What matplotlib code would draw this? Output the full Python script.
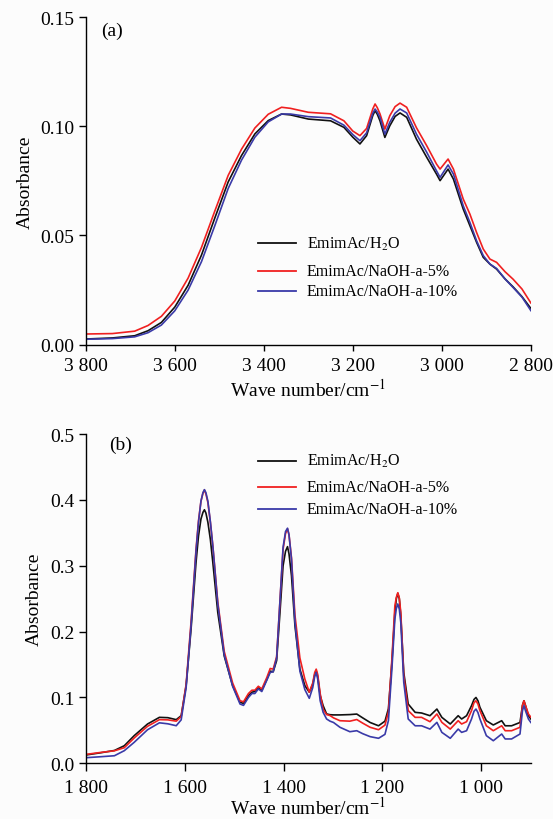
import matplotlib
matplotlib.use("Agg")
import matplotlib.pyplot as plt

plt.rcParams["font.family"] = ["Liberation Serif", "DejaVu Serif"]
plt.rcParams["mathtext.fontset"] = "stix"

LABELS = ["EmimAc/H$_2$O", "EmimAc/NaOH-a-5%", "EmimAc/NaOH-a-10%"]
COLORS = ["#111111", "#f02020", "#3a3aa8"]

# panel (a): 3800-2800 cm-1
wn_a = [3800, 3740, 3690, 3660, 3630, 3600, 3570, 3540, 3510, 3480,
        3450, 3420, 3390, 3360, 3340, 3300, 3250, 3220, 3200, 3184,
        3169, 3155, 3150, 3145, 3139, 3128, 3117, 3105, 3094, 3079,
        3057, 3034, 3012, 3004, 2986, 2974, 2952, 2937, 2922, 2907,
        2892, 2877, 2858, 2840, 2820, 2800]
h2o_a = [0.0026, 0.0031, 0.0041, 0.0064, 0.0102, 0.0172, 0.0272, 0.0410, 0.0580, 0.0745,
         0.0866, 0.0965, 0.1026, 0.1056, 0.1052, 0.1033, 0.1025, 0.0995, 0.0950, 0.0919,
         0.0957, 0.1050, 0.1071, 0.1055, 0.1025, 0.0949, 0.1002, 0.1045, 0.1061, 0.1041,
         0.0941, 0.0858, 0.0781, 0.0751, 0.0804, 0.0758, 0.0621, 0.0545, 0.0469, 0.0400,
         0.0369, 0.0346, 0.0301, 0.0265, 0.0220, 0.0166]
naoh5_a = [0.0049, 0.0051, 0.0062, 0.0088, 0.0130, 0.0200, 0.0305, 0.0445, 0.0612, 0.0775,
           0.0895, 0.0992, 0.1055, 0.1087, 0.1082, 0.1064, 0.1057, 0.1025, 0.0978, 0.0957,
           0.0990, 0.1080, 0.1102, 0.1085, 0.1057, 0.0987, 0.1048, 0.1090, 0.1106, 0.1087,
           0.0993, 0.0911, 0.0827, 0.0804, 0.0850, 0.0804, 0.0667, 0.0598, 0.0514, 0.0438,
           0.0392, 0.0377, 0.0334, 0.0300, 0.0255, 0.0191]
naoh10_a = [0.0025, 0.0028, 0.0036, 0.0055, 0.0090, 0.0155, 0.0250, 0.0380, 0.0545, 0.0715,
            0.0845, 0.0950, 0.1020, 0.1056, 0.1056, 0.1044, 0.1038, 0.1005, 0.0962, 0.0934,
            0.0970, 0.1060, 0.1079, 0.1065, 0.1041, 0.0964, 0.1018, 0.1060, 0.1079, 0.1061,
            0.0964, 0.0881, 0.0796, 0.0766, 0.0823, 0.0781, 0.0636, 0.0560, 0.0476, 0.0408,
            0.0369, 0.0349, 0.0301, 0.0262, 0.0218, 0.0156]

# panel (b): 1800-900 cm-1
wn_b = [1800, 1770, 1742, 1722, 1702, 1675, 1651, 1634, 1617, 1607,
        1597, 1587, 1577, 1572, 1567, 1563, 1560, 1557, 1553, 1548,
        1543, 1533, 1520, 1503, 1488, 1481, 1471, 1464, 1458, 1451,
        1444, 1434, 1427, 1421, 1414, 1407, 1401, 1396, 1392, 1389,
        1384, 1377, 1367, 1357, 1348, 1341, 1337, 1334, 1331, 1326,
        1320, 1313, 1306, 1299, 1286, 1266, 1252, 1240, 1225, 1208,
        1195, 1188, 1181, 1175, 1172, 1169, 1166, 1163, 1157, 1148,
        1134, 1121, 1104, 1090, 1080, 1063, 1047, 1040, 1030, 1020,
        1015, 1011, 1007, 1003, 990, 976, 959, 952, 939, 922,
        917, 914, 911, 905, 900]
h2o_b = [0.0126, 0.0160, 0.0195, 0.0267, 0.0420, 0.0597, 0.0698, 0.0693, 0.0663, 0.0723,
         0.118, 0.204, 0.305, 0.345, 0.371, 0.381, 0.385, 0.380, 0.366, 0.340,
         0.305, 0.229, 0.163, 0.118, 0.0926, 0.0910, 0.103, 0.108, 0.109, 0.1145,
         0.111, 0.127, 0.140, 0.139, 0.156, 0.232, 0.300, 0.322, 0.329, 0.318,
         0.285, 0.209, 0.143, 0.118, 0.108, 0.120, 0.135, 0.140, 0.132, 0.103,
         0.0875, 0.0750, 0.0738, 0.0735, 0.0735, 0.0740, 0.0748, 0.0690, 0.0620, 0.0570,
         0.0640, 0.0830, 0.153, 0.229, 0.250, 0.258, 0.250, 0.224, 0.138, 0.0900,
         0.0774, 0.0764, 0.0723, 0.0824, 0.0698, 0.0597, 0.0723, 0.0673, 0.0723, 0.0875,
         0.0970, 0.1000, 0.0950, 0.0850, 0.0647, 0.0582, 0.0647, 0.0570, 0.0570, 0.0620,
         0.0880, 0.0950, 0.0880, 0.0723, 0.0673]
naoh5_b = [0.0135, 0.0165, 0.0190, 0.0237, 0.0384, 0.0562, 0.0663, 0.0660, 0.0640, 0.0710,
           0.120, 0.215, 0.325, 0.368, 0.398, 0.410, 0.415, 0.409, 0.396, 0.366,
           0.330, 0.245, 0.170, 0.122, 0.0950, 0.0935, 0.106, 0.111, 0.111, 0.117,
           0.113, 0.130, 0.144, 0.143, 0.162, 0.250, 0.325, 0.349, 0.356, 0.347,
           0.312, 0.225, 0.160, 0.128, 0.108, 0.122, 0.138, 0.143, 0.135, 0.106,
           0.0820, 0.0740, 0.0725, 0.0690, 0.0647, 0.0640, 0.0665, 0.0610, 0.0547, 0.0510,
           0.0580, 0.0780, 0.158, 0.239, 0.252, 0.259, 0.251, 0.229, 0.133, 0.0800,
           0.0698, 0.0698, 0.0632, 0.0749, 0.0622, 0.0520, 0.0647, 0.0597, 0.0632, 0.0800,
           0.0920, 0.0950, 0.0900, 0.0800, 0.0570, 0.0495, 0.0570, 0.0495, 0.0495, 0.0547,
           0.0880, 0.0950, 0.0880, 0.0750, 0.0700]
naoh10_b = [0.0085, 0.0100, 0.0115, 0.0192, 0.0319, 0.0510, 0.0615, 0.0600, 0.0571, 0.0660,
            0.115, 0.210, 0.322, 0.366, 0.398, 0.411, 0.4155, 0.411, 0.398, 0.367,
            0.330, 0.242, 0.165, 0.117, 0.0900, 0.0880, 0.100, 0.106, 0.106, 0.113,
            0.109, 0.126, 0.138, 0.139, 0.160, 0.250, 0.328, 0.352, 0.357, 0.347,
            0.310, 0.215, 0.140, 0.112, 0.0987, 0.115, 0.132, 0.138, 0.128, 0.0950,
            0.0774, 0.0673, 0.0640, 0.0620, 0.0547, 0.0480, 0.0495, 0.0450, 0.0405, 0.0380,
            0.0440, 0.0650, 0.143, 0.219, 0.235, 0.242, 0.234, 0.214, 0.123, 0.0673,
            0.0570, 0.0570, 0.0520, 0.0622, 0.0470, 0.0380, 0.0520, 0.0470, 0.0495, 0.0673,
            0.0790, 0.0824, 0.0770, 0.0673, 0.0420, 0.0343, 0.0445, 0.0370, 0.0370, 0.0445,
            0.0800, 0.0875, 0.0800, 0.0673, 0.0620]

xticks_a = [3800, 3600, 3400, 3200, 3000, 2800]
yticks_a = [0.00, 0.05, 0.10, 0.15]
xticks_b = [1800, 1600, 1400, 1200, 1000]
yticks_b = [0.0, 0.1, 0.2, 0.3, 0.4, 0.5]

# legend rows (axes fraction), panel a / panel b
legend_rows_a = [0.310, 0.225, 0.164]
legend_rows_b = [0.919, 0.838, 0.772]


def style_axis(ax, xticks, yticks, yfmt, xlen, xpad, xlabelpad):
    ax.spines["top"].set_visible(False)
    ax.spines["right"].set_visible(False)
    for s in ("left", "bottom"):
        ax.spines[s].set_linewidth(1.0)
    ax.set_xticks(xticks)
    ax.set_xticklabels([f"{t:,}".replace(",", " ") for t in xticks])
    ax.set_yticks(yticks)
    ax.set_yticklabels([yfmt.format(t) for t in yticks])
    ax.tick_params(axis="y", direction="out", length=5, width=1.0, labelsize=14, pad=3)
    ax.tick_params(axis="x", direction="out", length=xlen, width=1.0, labelsize=14, pad=xpad)
    ax.set_xlabel("Wave number/cm$^{-1}$", fontsize=14, labelpad=xlabelpad)
    ax.set_ylabel("Absorbance", fontsize=14, labelpad=5)
    ax.set_facecolor("#fcfcfc")


def draw_legend(ax, rows):
    for y, c, lab in zip(rows, COLORS, LABELS):
        ax.plot([0.388, 0.473], [y, y], color=c, lw=1.3, transform=ax.transAxes)
        ax.text(0.497, y, lab, transform=ax.transAxes, fontsize=11.5, va="center")


fig = plt.figure(figsize=(5.53, 8.2), dpi=100, facecolor="#fcfcfc")
ax1 = fig.add_axes([0.155, 0.5784, 0.805, 0.3996])
ax2 = fig.add_axes([0.155, 0.0679, 0.805, 0.4016])

for ys, c in zip([h2o_a, naoh5_a, naoh10_a], COLORS):
    ax1.plot(wn_a, ys, color=c, lw=1.2)
ax1.set_xlim(3800, 2800)
ax1.set_ylim(0, 0.15)
style_axis(ax1, xticks_a, yticks_a, "{:.2f}", 4, 4.5, 3)
ax1.text(0.035, 0.958, "(a)", transform=ax1.transAxes, fontsize=14, va="center")
draw_legend(ax1, legend_rows_a)

for ys, c in zip([h2o_b, naoh5_b, naoh10_b], COLORS):
    ax2.plot(wn_b, ys, color=c, lw=1.2)
ax2.set_xlim(1800, 900)
ax2.set_ylim(0, 0.5)
style_axis(ax2, xticks_b, yticks_b, "{:.1f}", 5.5, 5.5, 0)
ax2.text(0.053, 0.97, "(b)", transform=ax2.transAxes, fontsize=14, va="center")
draw_legend(ax2, legend_rows_b)

fig.savefig("out.png", dpi=100, facecolor=fig.get_facecolor())
